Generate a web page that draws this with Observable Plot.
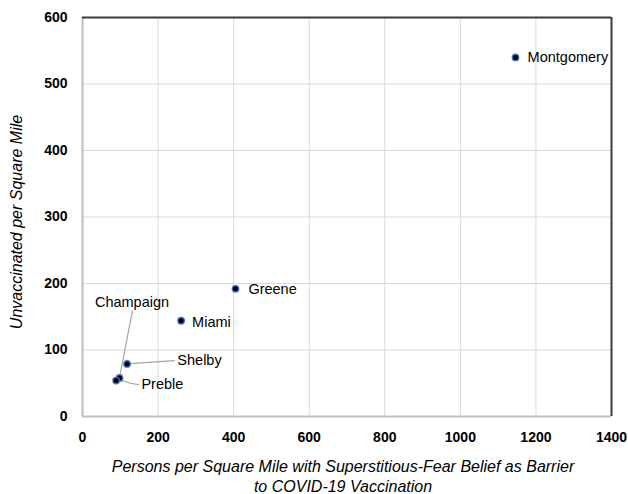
<!DOCTYPE html>
<html><head><meta charset="utf-8">
<script src="https://cdn.jsdelivr.net/npm/d3@7"></script>
<script src="https://cdn.jsdelivr.net/npm/@observablehq/plot@0.6"></script>
<style>body{margin:0;background:#fff}</style>
</head><body><div id="chart"></div>
<script>
// Data
const counties = ["Montgomery", "Greene", "Miami", "Shelby", "Champaign", "Preble"];
const fearDensity = [1146, 405, 261, 118, 98, 89];
const unvaxDensity = [540, 192, 144, 79, 58, 54];
const xTicks = [0, 200, 400, 600, 800, 1000, 1200, 1400];
const yTicks = [0, 100, 200, 300, 400, 500, 600];
const xTitle = "Persons per Square Mile with Superstitious-Fear Belief as Barrier\nto COVID-19 Vaccination";
const yTitle = "Unvaccinated per Square Mile";

// Annotation label anchors (data units)
const labelX = [1178, 439, 290, 251, 131, 156];
const labelY = [540, 191, 141, 84, 171, 48];
const labelAnchor = ["start", "start", "start", "start", "middle", "start"];
// leader lines: [county, x, y] waypoints from label towards point
const leaderPts = [
  ["Shelby", 243, 84], ["Shelby", 118, 79],
  ["Champaign", 132, 159], ["Champaign", 98, 58],
  ["Preble", 148, 48], ["Preble", 127, 50], ["Preble", 104, 54]
];

const points = counties.map((c, i) => ({county: c, x: fearDensity[i], y: unvaxDensity[i]}));
const labels = counties.map((c, i) => ({county: c, x: labelX[i], y: labelY[i], anchor: labelAnchor[i]}));
const leaders = leaderPts.map(([county, x, y]) => ({county, x, y}));

const font = "'Liberation Sans', Arial, sans-serif";

const chart = Plot.plot({
  width: 628,
  height: 494,
  marginLeft: 82,
  marginRight: 17,
  marginTop: 17,
  marginBottom: 78,
  style: {fontFamily: font, fontSize: "14px", color: "#000", background: "#fff"},
  x: {domain: [0, 1400]},
  y: {domain: [0, 600]},
  marks: [
    Plot.gridX(xTicks, {stroke: "#d9d9d9", strokeOpacity: 1, strokeWidth: 1}),
    Plot.gridY(yTicks, {stroke: "#d9d9d9", strokeOpacity: 1, strokeWidth: 1}),
    Plot.ruleX([xTicks[0]], {stroke: "#bfbfbf", strokeWidth: 2}),
    Plot.ruleY([yTicks[0]], {stroke: "#bfbfbf", strokeWidth: 2}),
    Plot.ruleX([xTicks[xTicks.length - 1]], {stroke: "#3a3a3a", strokeWidth: 2}),
    Plot.ruleY([yTicks[yTicks.length - 1]], {stroke: "#3a3a3a", strokeWidth: 2}),
    Plot.axisX(xTicks, {tickSize: 0, tickPadding: 16, fontWeight: "bold", fontSize: 14, tickFormat: d => String(d), label: null}),
    Plot.axisY(yTicks, {tickSize: 0, tickPadding: 15, fontWeight: "bold", fontSize: 14, tickFormat: d => String(d), label: null}),
    Plot.line(leaders, {x: "x", y: "y", z: "county", stroke: "#a6a6a6", strokeWidth: 1.2}),
    Plot.dot(points, {x: "x", y: "y", r: 3.2, fill: "#000", stroke: "#4472c4", strokeWidth: 1.4}),
    Plot.text(labels.filter(d => d.anchor === "start"), {x: "x", y: "y", text: "county", textAnchor: "start", fontSize: 14.5, fill: "#000"}),
    Plot.text(labels.filter(d => d.anchor === "middle"), {x: "x", y: "y", text: "county", textAnchor: "middle", fontSize: 14.5, fill: "#000"}),
    Plot.text([xTitle], {frameAnchor: "bottom", text: d => d, lineAnchor: "top", textAnchor: "middle", dy: 41, dx: -4, fontStyle: "italic", fontSize: 16, lineHeight: 1.25, fill: "#000"}),
    Plot.text([yTitle], {frameAnchor: "left", text: d => d, textAnchor: "middle", rotate: -90, dx: -66, dy: 5, fontStyle: "italic", fontSize: 16, fill: "#000"})
  ]
});
document.getElementById("chart").appendChild(chart);
</script>
</body></html>
